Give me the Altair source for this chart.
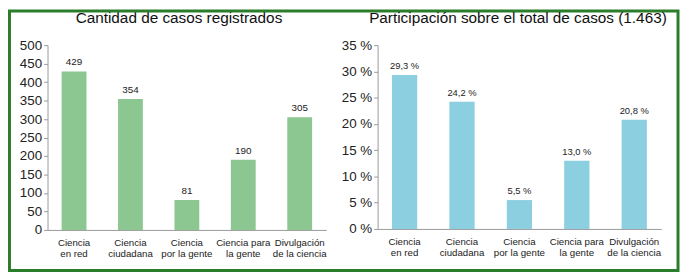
import altair as alt
import pandas as pd

categories = ["Ciencia en red", "Ciencia ciudadana", "Ciencia por la gente",
              "Ciencia para la gente", "Divulgación de la ciencia"]
label_lines = [["Ciencia", "en red"], ["Ciencia", "ciudadana"], ["Ciencia", "por la gente"],
               ["Ciencia para", "la gente"], ["Divulgación", "de la ciencia"]]
casos = [429, 354, 81, 190, 305]
participacion = [29.3, 24.2, 5.5, 13.0, 20.8]
casos_ticks = list(range(0, 501, 50))
part_ticks = list(range(0, 36, 5))
total = 1463
titulo_izq = "Cantidad de casos registrados"
total_txt = f"{total:,}".replace(",", ".")
titulo_der = f"Participación sobre el total de casos ({total_txt})"

FONT = "Liberation Sans"
GREEN = "#8cc792"
BLUE = "#8ccfe0"
BORDER = "#2a7d2a"
AXIS = "#999999"

labels = ["|".join(l) for l in label_lines]
df = pd.DataFrame({"cat": labels, "nombre": categories, "casos": casos, "pct": participacion})


def xenc():
    return alt.X(
        "cat:N", sort=labels, title=None,
        scale=alt.Scale(paddingInner=0.56, paddingOuter=0.25),
        axis=alt.Axis(labelAngle=0, labelExpr="split(datum.label, '|')", ticks=False,
                      domainColor=AXIS, labelFontSize=9.8, labelPadding=8,
                      labelLineHeight=11, labelColor="#222", labelFont=FONT),
    )


def yenc(field, values, domain, expr=None):
    kw = dict(values=values, grid=False, title=None, tickSize=4, tickColor=AXIS,
              domainColor=AXIS, labelFontSize=13.5, labelPadding=2, labelColor="#222",
              labelFont=FONT)
    if expr:
        kw["labelExpr"] = expr
    return alt.Y(field, scale=alt.Scale(domain=domain), axis=alt.Axis(**kw))


def title_mark(text, x):
    return alt.Chart(alt.Data(values=[{"t": text}])).mark_text(
        fontSize=15.5, font=FONT, color="#111", baseline="alphabetic", align="center"
    ).encode(x=alt.value(x), y=alt.value(-22), text="t:N")


base_l = alt.Chart(df)
bars_l = base_l.mark_bar(color=GREEN).encode(
    x=xenc(), y=yenc("casos:Q", casos_ticks, [0, 500]))
text_l = base_l.mark_text(dy=-6, baseline="alphabetic", fontSize=10, font=FONT,
                          color="#222").encode(
    x=xenc(), y=yenc("casos:Q", casos_ticks, [0, 500]), text=alt.Text("casos:Q"))
border = alt.Chart(alt.Data(values=[{"a": 1}])).mark_rect(
    fillOpacity=0, stroke=BORDER, strokeWidth=3).encode(
    x=alt.value(-38.5), x2=alt.value(638), y=alt.value(-34.5), y2=alt.value(228))

left = alt.layer(bars_l, text_l, title_mark(titulo_izq, 133), border).properties(
    width=282, height=187)

base_r = alt.Chart(df).transform_calculate(
    lbl="replace(format(datum.pct, '.1f'), '.', ',') + ' %'")
yr = lambda: yenc("pct:Q", part_ticks, [0, 35], "datum.value + ' %'")
bars_r = base_r.mark_bar(color=BLUE).encode(x=xenc(), y=yr())
text_r = base_r.mark_text(dy=-6, baseline="alphabetic", fontSize=9.5, font=FONT,
                          color="#222").encode(
    x=xenc(), y=yr(), text=alt.Text("lbl:N"))

right = alt.layer(bars_r, text_r, title_mark(titulo_der, 142)).properties(
    width=287, height=186)

chart = alt.hconcat(left, right, spacing=52, bounds="flush").properties(
    padding=0
).configure_view(stroke=None)

chart.save("out.html", embed_options={"renderer": "svg", "actions": False})
